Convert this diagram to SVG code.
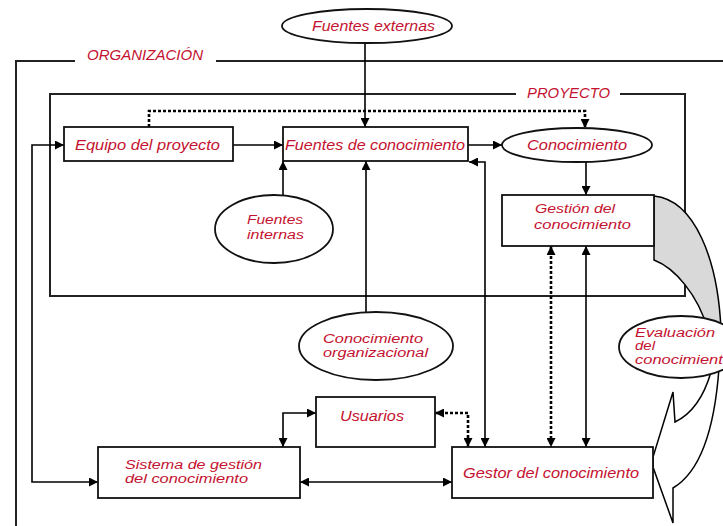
<svg xmlns="http://www.w3.org/2000/svg" width="723" height="526" viewBox="0 0 723 526">
<style>
text{font-family:"Liberation Sans",Arial,sans-serif;font-style:italic;font-size:14px;fill:#c41230;}
text.m{font-size:12.5px;}
.box{fill:#fff;stroke:#111;stroke-width:1.8;}
.frame{fill:none;stroke:#222;stroke-width:2;}
.c{fill:none;stroke:#000;stroke-width:1.6;}
.d{fill:none;stroke:#000;stroke-width:2.6;stroke-dasharray:3 2;}
.ea{marker-end:url(#ah);}
.ba{marker-start:url(#ah);marker-end:url(#ah);}
</style>
<defs>
<marker id="ah" viewBox="0 0 10 10" refX="10" refY="5" markerWidth="9" markerHeight="9" markerUnits="userSpaceOnUse" orient="auto-start-reverse">
<path d="M0,0 L10,5 L0,10 z" fill="#000"/>
</marker>
</defs>
<rect width="723" height="526" fill="#fff"/>

<g id="organizacion">
<path class="frame" d="M75,61 H16 V526 M216,61 H723"/>
<text x="87" y="60" textLength="116" lengthAdjust="spacingAndGlyphs">ORGANIZACIÓN</text>
</g>
<g id="proyecto">
<path class="frame" d="M516,94 H50 V296 H685 V94 H620"/>
<text x="527" y="98" textLength="83" lengthAdjust="spacingAndGlyphs">PROYECTO</text>
</g>

<g id="evaluacion-arrow">
<path d="M654,196 C695,200 718,260 721,330 L708,330 C698,295 675,268 654,260 Z" fill="#d9d9d9" stroke="#000" stroke-width="1.5"/>
<path d="M711,372 Q700,410 675,422 L673,392 L653,457 L653,467 L673,523 L673,488 Q712,465 719,368" fill="#fff" stroke="#000" stroke-width="1.5"/>
</g>

<g id="connectors">
<path class="c ea" d="M365,43 V127"/>
<path class="c ea" d="M233,145 H283"/>
<path class="c ea" d="M468,145 H502"/>
<path class="c ea" d="M586,162 V195"/>
<path class="d ea" d="M149,127 V111 H585 V128"/>
<path class="c ea" d="M283,195 V161"/>
<path class="c ea" d="M366,312 V161"/>
<path class="c ba" d="M485,447 V162 H469"/>
<path class="d ba" d="M551,246 V447"/>
<path class="c ba" d="M586,246 V447"/>
<path class="c ba" d="M64,145 H32 V482 H98"/>
<path class="c ba" d="M300,482 H452"/>
<path class="c ba" d="M283,447 V413 H316"/>
<path class="d ba" d="M435,413 H468 V447"/>
</g>

<g id="fuentes-externas">
<ellipse class="box" cx="367" cy="26" rx="85" ry="17"/>
<text x="312" y="31" textLength="123" lengthAdjust="spacingAndGlyphs">Fuentes externas</text>
</g>
<g id="equipo">
<rect class="box" x="64" y="127" width="169" height="34"/>
<text x="75" y="150" textLength="145" lengthAdjust="spacingAndGlyphs">Equipo del proyecto</text>
</g>
<g id="fuentes-conocimiento">
<rect class="box" x="283" y="127" width="185" height="34"/>
<text x="285" y="150" textLength="180" lengthAdjust="spacingAndGlyphs">Fuentes de conocimiento</text>
</g>
<g id="conocimiento">
<ellipse class="box" cx="577" cy="145" rx="75" ry="17"/>
<text x="527" y="150" textLength="100" lengthAdjust="spacingAndGlyphs">Conocimiento</text>
</g>
<g id="fuentes-internas">
<ellipse class="box" cx="274" cy="229" rx="59" ry="34"/>
<text class="m" x="247" y="224" textLength="56" lengthAdjust="spacingAndGlyphs">Fuentes</text>
<text class="m" x="247" y="239" textLength="57" lengthAdjust="spacingAndGlyphs">internas</text>
</g>
<g id="gestion">
<rect class="box" x="502" y="195" width="152" height="51"/>
<text class="m" x="535" y="213" textLength="80" lengthAdjust="spacingAndGlyphs">Gestión del</text>
<text class="m" x="534" y="229" textLength="97" lengthAdjust="spacingAndGlyphs">conocimiento</text>
</g>
<g id="conocimiento-organizacional">
<ellipse class="box" cx="376" cy="346" rx="77" ry="34"/>
<text class="m" x="323" y="343" textLength="100" lengthAdjust="spacingAndGlyphs">Conocimiento</text>
<text class="m" x="323" y="357" textLength="105" lengthAdjust="spacingAndGlyphs">organizacional</text>
</g>
<g id="evaluacion">
<ellipse class="box" cx="681" cy="347" rx="62" ry="31"/>
<text class="m" x="635" y="337" textLength="80" lengthAdjust="spacingAndGlyphs">Evaluación</text>
<text class="m" x="635" y="350" textLength="20" lengthAdjust="spacingAndGlyphs">del</text>
<text class="m" x="635" y="364" textLength="97" lengthAdjust="spacingAndGlyphs">conocimiento</text>
</g>
<g id="usuarios">
<rect class="box" x="316" y="397" width="119" height="50"/>
<text x="340" y="421" textLength="64" lengthAdjust="spacingAndGlyphs">Usuarios</text>
</g>
<g id="sistema">
<rect class="box" x="98" y="447" width="202" height="51"/>
<text class="m" x="125" y="469" textLength="137" lengthAdjust="spacingAndGlyphs">Sistema de gestión</text>
<text class="m" x="125" y="483" textLength="123" lengthAdjust="spacingAndGlyphs">del conocimiento</text>
</g>
<g id="gestor">
<rect class="box" x="452" y="447" width="201" height="51"/>
<text x="463" y="478" textLength="176" lengthAdjust="spacingAndGlyphs">Gestor del conocimiento</text>
</g>
</svg>
